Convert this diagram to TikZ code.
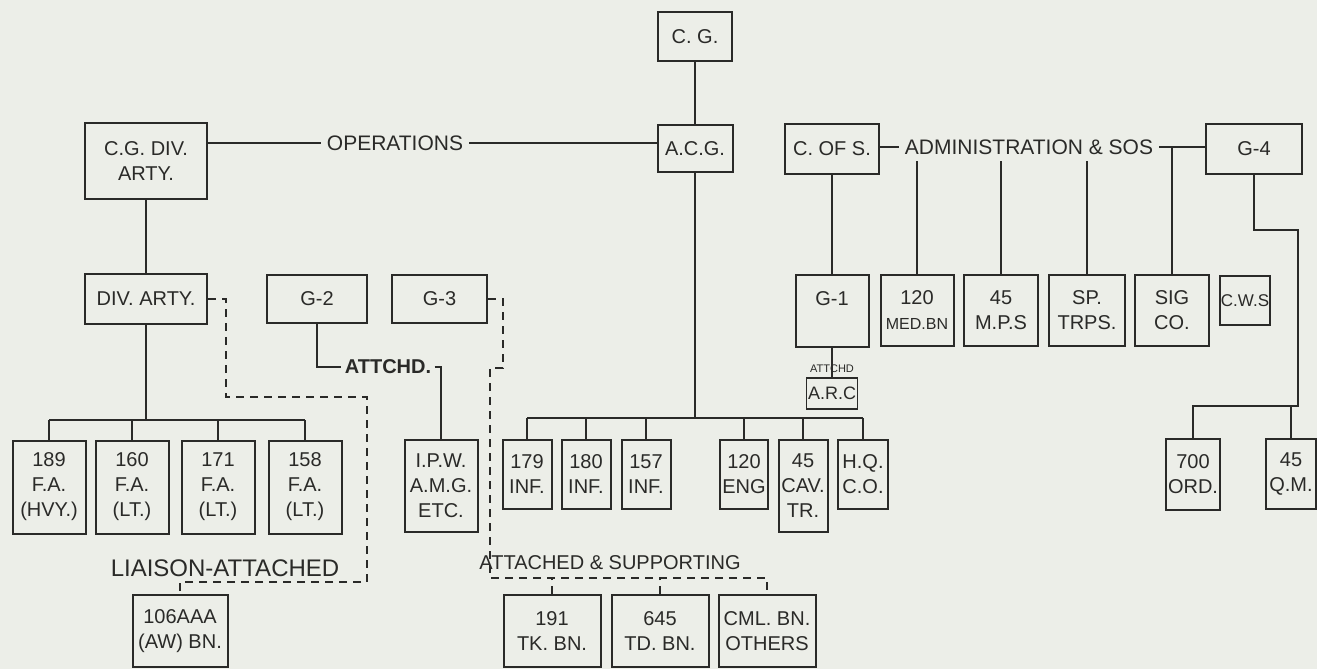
\documentclass[tikz,border=0pt]{standalone}
\usepackage{fontspec}
\setmainfont{Liberation Sans}
\usepackage{tikz}
\definecolor{paper}{HTML}{ECEEE8}
\definecolor{ink}{HTML}{2A2A28}
\tikzset{
  unitbox/.style={draw=ink, line width=1pt, align=center, inner sep=1pt, text=ink, font=\fontsize{10}{12.5}\selectfont},
  lbl/.style={text=ink, inner sep=3pt, font=\fontsize{10.5}{12}\selectfont},
  link/.style={draw=ink, line width=0.9pt},
  dashlink/.style={draw=ink, line width=0.9pt, dash pattern=on 4pt off 3pt}
}

\begin{document}
\begin{tikzpicture}[x=0.5pt,y=-0.5pt]
  \fill[paper] (0,0) rectangle (1317,669);
  \useasboundingbox (0,0) rectangle (1317,669);

  % Command line
  \node[unitbox, minimum width=37pt, minimum height=24.5pt] (cg) at (695,36.5) {C. G.};
  \node[unitbox, minimum width=37.5pt, minimum height=23.5pt] (acg) at (695,148.5) {A.C.G.};
  \node[unitbox, minimum width=61pt, minimum height=38pt] (cgdiv) at (146,161) {C.G. DIV.\\ARTY.};
  \node[lbl] (ops) at (395,143) {OPERATIONS};
  \draw[link] (cg.south) -- (acg.north);
  \draw[link] (cgdiv.east |- ops) -- (ops.west);
  \draw[link] (ops.east) -- (acg.west |- ops);

  % Artillery and staff
  \node[unitbox, minimum width=61pt, minimum height=25pt] (divarty) at (146,299) {DIV. ARTY.};
  \node[unitbox, minimum width=50pt, minimum height=24pt] (gtwo) at (317,299) {G-2};
  \node[unitbox, minimum width=47.5pt, minimum height=24pt] (gthree) at (439.5,299) {G-3};
  \node[lbl, inner sep=1.5pt, font=\bfseries\fontsize{10}{12}\selectfont] (attchd) at (388,367) {ATTCHD.};
  \foreach \nm/\x/\kind in {189/49/HVY.,160/132/LT.,171/218/LT.,158/305/LT.}
    \node[unitbox, minimum width=36.5pt, minimum height=46.5pt] (fa\nm) at (\x,487) {\nm\\F.A.\\(\kind)};
  \node[unitbox, minimum width=36.5pt, minimum height=46pt] (ipw) at (441,486) {I.P.W.\\A.M.G.\\ETC.};
  \draw[link] (cgdiv.south) -- (divarty.north);
  \coordinate (fabus) at (146,420);
  \draw[link] (divarty.south) -- (fabus);
  \draw[link] (fa189.north |- fabus) -- (fa158.north |- fabus);
  \foreach \nm in {189,160,171,158}
    \draw[link] (fa\nm.north) -- (fa\nm.north |- fabus);
  \draw[link] (gtwo.south) |- (attchd.west);
  \draw[link] (attchd.east) -| (ipw.north);

  % Infantry and divisional troops
  \foreach \nm/\x in {179/527,180/586,157/646}
    \node[unitbox, minimum width=24.5pt, minimum height=34.5pt] (inf\nm) at (\x,474.5) {\nm\\INF.};
  \node[unitbox, minimum width=23.5pt, minimum height=34.5pt] (eng120) at (744,474.5) {120\\ENG};
  \node[unitbox, minimum width=24.5pt, minimum height=46pt] (cav45) at (803,486) {45\\CAV.\\TR.};
  \node[unitbox, minimum width=25pt, minimum height=34.5pt] (hqco) at (863,474.5) {H.Q.\\C.O.};
  \coordinate (infbus) at (695,418);
  \draw[link] (acg.south) -- (infbus);
  \draw[link] (inf179.north |- infbus) -- (hqco.north |- infbus);
  \foreach \nm in {inf179,inf180,inf157,eng120,cav45,hqco}
    \draw[link] (\nm.north) -- (\nm.north |- infbus);

  % Administration
  \node[unitbox, minimum width=47pt, minimum height=25pt] (cofs) at (832,149) {C. OF S.};
  \node[unitbox, minimum width=48pt, minimum height=25pt] (gfour) at (1254,149) {G-4};
  \node[lbl] (admin) at (1029,147) {ADMINISTRATION \& SOS};
  \node[unitbox, minimum width=36.5pt, minimum height=36pt] (gone) at (832,311) {G-1\\~};
  \node[unitbox, minimum width=36.5pt, minimum height=35.5pt] (medbn) at (917,310.5) {120\\{\fontsize{8}{10}\selectfont MED.BN}};
  \node[unitbox, minimum width=37pt, minimum height=35.5pt] (mps) at (1001,310.5) {45\\M.P.S};
  \node[unitbox, minimum width=38pt, minimum height=35.5pt] (sptrps) at (1087,310.5) {SP.\\TRPS.};
  \node[unitbox, minimum width=37pt, minimum height=35.5pt] (sigco) at (1172,310.5) {SIG\\CO.};
  \node[unitbox, minimum width=25pt, minimum height=24.5pt, inner sep=0pt, font=\fontsize{8.5}{10}\selectfont] (cws) at (1245,300.5) {C.W.S};
  \node[unitbox, minimum width=25.5pt, minimum height=15.5pt, line width=0.8pt, inner sep=0pt, font=\fontsize{9}{10}\selectfont] (arc) at (832,393.5) {A.R.C};
  \draw[link] (cofs.east |- admin) -- (admin.west);
  \draw[link] (admin.east) -- (gfour.west |- admin);
  \draw[link] (cofs.south) -- (gone.north);
  \foreach \nm in {medbn,mps,sptrps}
    \draw[link] (\nm.north) -- (\nm.north |- admin.south);
  \draw[link] (sigco.north) -- (sigco.north |- admin);
  \draw[link] (gone.south) -- (arc.north);
  \node[text=ink, inner sep=0pt, font=\fontsize{5.5}{6}\selectfont] (arcnote) at (832,369) {ATTCHD};

  % Supply
  \node[unitbox, minimum width=25.5pt, minimum height=35.5pt] (ord700) at (1193,474.5) {700\\ORD.};
  \node[unitbox, minimum width=25pt, minimum height=35pt] (qm45) at (1291,474) {45\\Q.M.};
  \coordinate (gfourbend) at (1298,230);
  \coordinate (ordbus) at (1298,406);
  \draw[link] (gfour.south) |- (gfourbend) -- (ordbus) -| (ord700.north);
  \draw[link] (qm45.north) -- (qm45.north |- ordbus);

  % Liaison and supporting units
  \node[lbl, font=\fontsize{12}{14}\selectfont] (liaison) at (225,568) {LIAISON-ATTACHED};
  \node[lbl, font=\fontsize{10}{12}\selectfont] (attsup) at (610,563) {ATTACHED \& SUPPORTING};
  \node[unitbox, minimum width=47.5pt, minimum height=36pt] (aaa106) at (180,631) {106AAA\\(AW) BN.};
  \node[unitbox, minimum width=48.5pt, minimum height=36pt] (tkbn) at (552,631) {191\\TK. BN.};
  \node[unitbox, minimum width=48.5pt, minimum height=36pt] (tdbn) at (660,631) {645\\TD. BN.};
  \node[unitbox, minimum width=48.5pt, minimum height=36pt] (cmlbn) at (767,631) {CML. BN.\\OTHERS};
  \coordinate (liaA) at (226,397);
  \coordinate (liaB) at (367,582);
  \draw[dashlink] (divarty.east) -| (liaA) -| (liaB) -| (aaa106.north);
  \coordinate (supA) at (503,368);
  \coordinate (supB) at (490,578);
  \draw[dashlink] (gthree.east) -| (supA) -| (supB) -| (cmlbn.north);
  \foreach \nm in {tkbn,tdbn}
    \draw[dashlink] (\nm.north) -- (\nm.north |- supB);
\end{tikzpicture}
\end{document}
